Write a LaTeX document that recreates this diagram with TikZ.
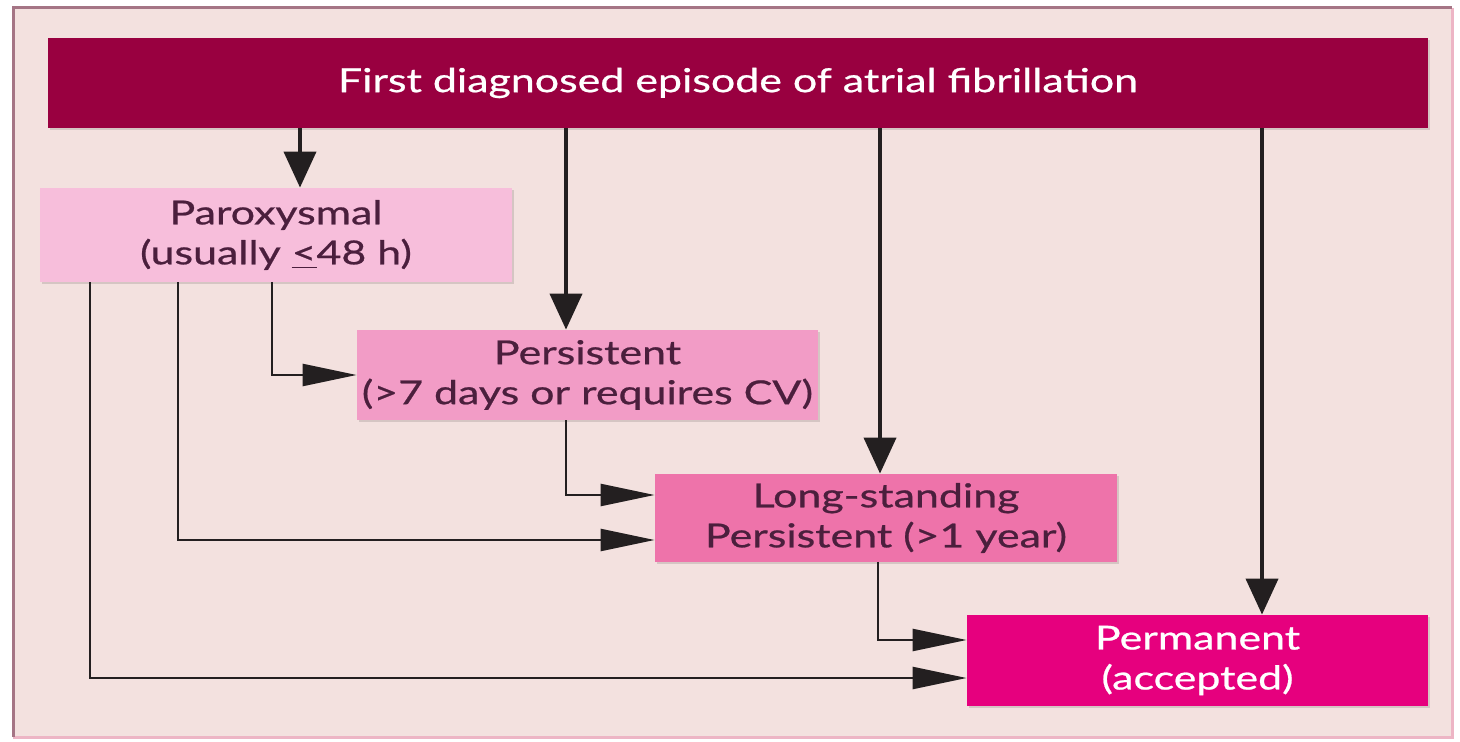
\documentclass[tikz,border=0pt]{standalone}
\usepackage{fontspec}
\setmainfont{Lato}
\newfontfamily\lbl[FakeStretch=1.3,FakeBold=0.7]{Lato}
\usetikzlibrary{arrows.meta,shadows}
\definecolor{bg}{HTML}{F3E1DF}
\definecolor{frameA}{HTML}{A57585}
\definecolor{frameB}{HTML}{EDB5C5}
\definecolor{topc}{HTML}{990040}
\definecolor{paroxc}{HTML}{F7BEDB}
\definecolor{persc}{HTML}{F29CC6}
\definecolor{longc}{HTML}{EE73AA}
\definecolor{permc}{HTML}{E6007E}
\definecolor{txt}{HTML}{4B1F3D}
\definecolor{arr}{HTML}{231F20}
\begin{document}
\begin{tikzpicture}[x=0.5pt,y=-0.5pt,
  box/.style={rectangle, inner sep=0pt, align=center,
    font=\lbl\fontsize{16.5}{20}\selectfont, text=txt,
    drop shadow={shadow xshift=1.2pt, shadow yshift=-1.2pt, fill=black, opacity=0.12}},
  varrow/.style={draw=arr, line width=2pt, -{Triangle[length=18pt,width=16pt]}},
  harrow/.style={draw=arr, line width=1.2pt, -{Triangle[length=27pt,width=11pt]}}]
\useasboundingbox (0,0) rectangle (1460,742);
% frame
\fill[bg] (13,8) rectangle (1452,737);
\draw[frameB, line width=1.5pt] (1452,8) -- (1452,737) -- (13,737);
\draw[frameA, line width=1.5pt] (13,737) -- (13,8) -- (1452,8);
% nodes
\node[box, fill=topc, text=white, minimum width=690pt, minimum height=45pt] (top) at (738,83) {First diagnosed episode of atrial fibrillation};
\node[box, fill=paroxc, minimum width=236pt, minimum height=47pt] (parox) at (276,235) {Paroxysmal\\(usually \underline{<}48 h)};
\node[box, fill=persc, minimum width=230.5pt, minimum height=45pt] (pers) at (587.5,375) {Persistent\\(>7 days or requires CV)};
\node[box, fill=longc, minimum width=231pt, minimum height=44pt] (long) at (886,518) {Long-standing\\Persistent (>1 year)};
\node[box, fill=permc, text=white, minimum width=230.5pt, minimum height=45.5pt] (perm) at (1197.5,660.5) {Permanent\\(accepted)};
% coordinates for connector columns
\coordinate (v1) at (300,0);
\coordinate (v2) at (566,0);
\coordinate (v3) at (880,0);
\coordinate (v4) at (1262,0);
\coordinate (p1) at (90,0);
\coordinate (p2) at (178,0);
\coordinate (p3) at (272,0);
\coordinate (q1) at (566,0);
\coordinate (q2) at (878,0);
\coordinate (l1) at (0,495);
\coordinate (l2) at (0,540);
\coordinate (m1) at (0,640);
\coordinate (m2) at (0,678);
% vertical arrows from top
\draw[varrow] (v1 |- top.south) -- (v1 |- parox.north);
\draw[varrow] (v2 |- top.south) -- (v2 |- pers.north);
\draw[varrow] (v3 |- top.south) -- (v3 |- long.north);
\draw[varrow] (v4 |- top.south) -- (v4 |- perm.north);
% elbow arrows
\draw[harrow] (p3 |- parox.south) |- (pers.west);
\draw[harrow] (p2 |- parox.south) |- (long.west |- l2);
\draw[harrow] (p1 |- parox.south) |- (perm.west |- m2);
\draw[harrow] (q1 |- pers.south) |- (long.west |- l1);
\draw[harrow] (q2 |- long.south) |- (perm.west |- m1);
\end{tikzpicture}
\end{document}
